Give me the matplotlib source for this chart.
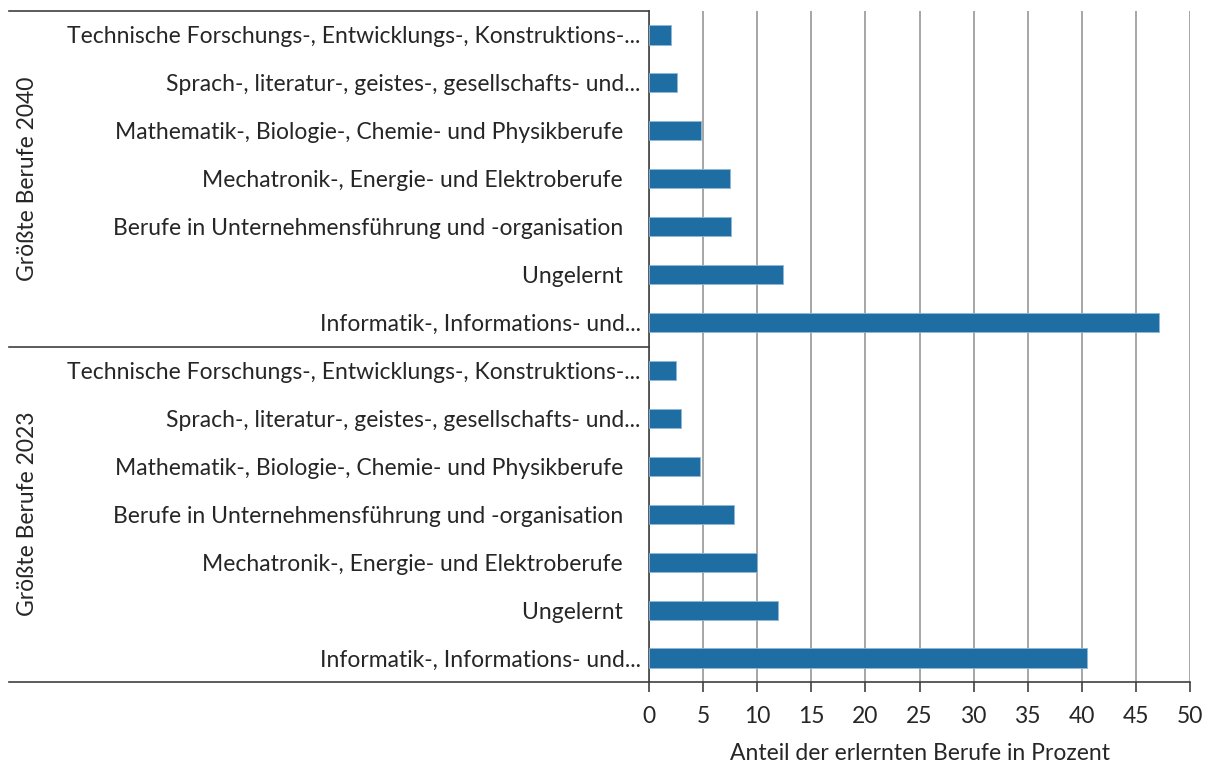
import matplotlib
matplotlib.use("Agg")
import matplotlib.pyplot as plt
from matplotlib.lines import Line2D

plt.rcParams['font.family'] = ['Lato', 'DejaVu Sans']

groups = ["Größte Berufe 2040", "Größte Berufe 2023"]

labels_2040 = [
    "Technische Forschungs-, Entwicklungs-, Konstruktions-...",
    "Sprach-, literatur-, geistes-, gesellschafts- und...",
    "Mathematik-, Biologie-, Chemie- und Physikberufe   ",
    "Mechatronik-, Energie- und Elektroberufe   ",
    "Berufe in Unternehmensführung und -organisation   ",
    "Ungelernt   ",
    "Informatik-, Informations- und...",
]
values_2040 = [2.0, 2.6, 4.8, 7.5, 7.6, 12.4, 47.1]

labels_2023 = [
    "Technische Forschungs-, Entwicklungs-, Konstruktions-...",
    "Sprach-, literatur-, geistes-, gesellschafts- und...",
    "Mathematik-, Biologie-, Chemie- und Physikberufe   ",
    "Berufe in Unternehmensführung und -organisation   ",
    "Mechatronik-, Energie- und Elektroberufe   ",
    "Ungelernt   ",
    "Informatik-, Informations- und...",
]
values_2023 = [2.5, 3.0, 4.7, 7.9, 10.0, 11.9, 40.5]

xticks = [0, 5, 10, 15, 20, 25, 30, 35, 40, 45, 50]
xlabel = "Anteil der erlernten Berufe in Prozent"

bar_color = "#1f6ea3"
text_color = "#262626"
fs = 16.5

fig = plt.figure(figsize=(12.12, 7.62), dpi=100)
L, R, B, T = 649 / 1212, 1190 / 1212, 1 - 682 / 762, 1 - 11 / 762
ax = fig.add_axes([L, B, R - L, T - B])

labels = labels_2040 + labels_2023
values = values_2040 + values_2023
n = len(labels)
ypos = list(range(n))

ax.barh(ypos, values, height=0.4, color=bar_color, edgecolor="#8fb6d6",
        linewidth=0.6, zorder=3)
ax.set_ylim(n - 0.5, -0.5)
ax.set_xlim(0, 50)
ax.set_xticks(xticks)
ax.set_xticklabels([str(t) for t in xticks], fontsize=fs, color=text_color)
ax.set_yticks(ypos)
ax.set_yticklabels(labels, fontsize=fs, color=text_color)
ax.tick_params(axis='y', length=0, pad=6)
ax.tick_params(axis='x', length=7, width=1.2, color="#404040", pad=10,
               direction='out')
ax.xaxis.grid(True, color="#a6a6a6", linewidth=1.4, zorder=0)
ax.set_axisbelow(True)
for s in ['top', 'right']:
    ax.spines[s].set_visible(False)
ax.spines['left'].set_color("#404040")
ax.spines['left'].set_linewidth(1.2)
ax.spines['bottom'].set_color("#404040")
ax.spines['bottom'].set_linewidth(1.2)
ax.set_xlabel(xlabel, fontsize=fs, color=text_color, labelpad=12)

# group separator lines extending to the left edge
x_left = 9 / 1212
for yv in [-0.5, 6.5, n - 0.5]:
    yfig = fig.transFigure.inverted().transform(ax.transData.transform((0, yv)))[1]
    fig.add_artist(Line2D([x_left, L], [yfig, yfig], transform=fig.transFigure,
                          color="#404040", linewidth=1.2))

# group labels
for gi, g in enumerate(groups):
    yc = gi * 7 + 3
    yfig = fig.transFigure.inverted().transform(ax.transData.transform((0, yc)))[1]
    fig.text(28 / 1212, yfig, g, rotation=90, ha='center', va='center',
             fontsize=fs, color=text_color)

fig.savefig("out.png", dpi=100)
